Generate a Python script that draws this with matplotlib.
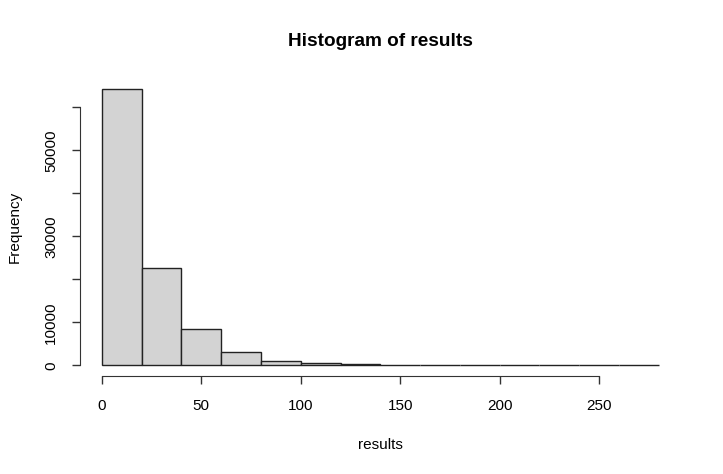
import matplotlib
matplotlib.use("Agg")
import matplotlib.pyplot as plt
import numpy as np

plt.rcParams['font.family'] = ['Liberation Sans', 'DejaVu Sans']

bin_edges = [0, 20, 40, 60, 80, 100, 120, 140, 160, 180, 200, 220, 240, 260, 280]
counts = [64200, 22600, 8500, 3000, 1050, 450, 200, 100, 40, 20, 10, 5, 3, 1]
x_ticks = [0, 50, 100, 150, 200, 250]
y_ticks = [0, 10000, 20000, 30000, 40000, 50000, 60000]
y_labels = ['0', '10000', '', '30000', '', '50000', '']

fig = plt.figure(figsize=(7.23, 4.74), dpi=100)
ax = fig.add_axes([0.110, 0.206, 0.832, 0.629])

lefts = np.array(bin_edges[:-1])
widths = np.diff(bin_edges)
ax.bar(lefts, counts, width=widths, align='edge', color='#D3D3D3',
       edgecolor='#222222', linewidth=1.0)

ax.set_xlim(-11.2, 291.2)
ax.set_ylim(-2568, 66768)

for s in ['top', 'right']:
    ax.spines[s].set_visible(False)
ax.spines['left'].set_bounds(0, 60000)
ax.spines['bottom'].set_bounds(0, 250)
for s in ['left', 'bottom']:
    ax.spines[s].set_color('#333333')

ax.set_xticks(x_ticks)
ax.set_xticklabels([str(v) for v in x_ticks])
ax.set_yticks(y_ticks)
ax.set_yticklabels(y_labels, rotation=90, va='center')
ax.tick_params(axis='both', length=6, width=1, color='#333333', labelsize=11)
ax.tick_params(axis='x', pad=10)
ax.tick_params(axis='y', pad=9.5)

ax.set_title('Histogram of results', fontsize=13.7, fontweight='bold', pad=23)
ax.set_xlabel('results', fontsize=11, labelpad=18.5)
ax.set_ylabel('Frequency', fontsize=11, labelpad=16)

fig.savefig('out.png', dpi=100)
